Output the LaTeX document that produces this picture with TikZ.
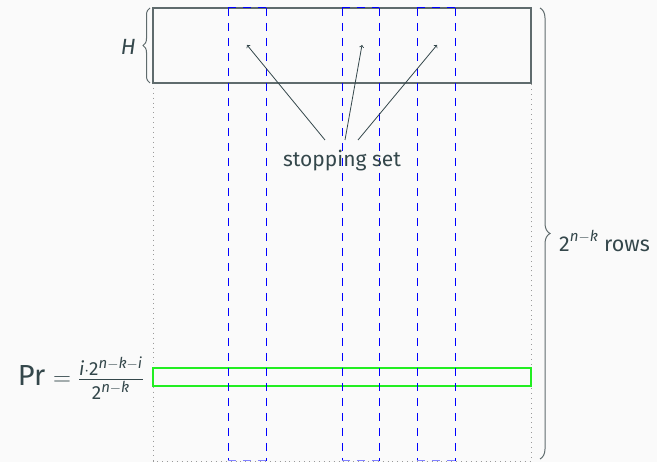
\documentclass[tikz,border=0pt]{standalone}
\usepackage{amsmath}
\usepackage{fontspec}
\setmainfont{Fira Sans}
\DeclareMathSizes{29}{29}{19}{15}
\usetikzlibrary{decorations.pathreplacing}
\definecolor{bgc}{HTML}{FAFAFA}
\definecolor{txt}{HTML}{34474B}
\definecolor{framec}{HTML}{5F6B6D}
\definecolor{dotc}{HTML}{9A9A9A}
\definecolor{myblue}{RGB}{0,0,255}
\definecolor{lightblue}{RGB}{130,130,255}
\definecolor{mygreen}{RGB}{34,238,34}
\newcommand{\itv}[1]{\text{\itshape #1}}
\newcommand{\dg}[1]{\text{#1}}
\tikzset{
  frameline/.style={draw=framec, line width=1.2pt},
  dotline/.style={draw=dotc, line width=0.9pt, dash pattern=on 0.9pt off 4pt},
  colline/.style={color=myblue, line width=1pt, dash pattern=on 8pt off 7pt},
  rowbox/.style={draw=mygreen, line width=1.1pt},
  bracec/.style={draw=framec, line width=1pt, decorate, decoration={brace, amplitude=7pt}},
  arr/.style={->, draw=txt, line width=0.8pt},
  lbl/.style={text=txt, inner sep=0pt}
}
\begin{document}
\begin{tikzpicture}[x=1pt,y=-1pt, font=\fontsize{17}{20}\selectfont]
\fill[bgc] (0,0) rectangle (657,462);
\useasboundingbox (0,0) rectangle (657,462);
% outer dotted frame
\coordinate (tl) at (153,83);
\coordinate (bl) at (153,461);
\coordinate (br) at (531,461);
\coordinate (tr) at (531,83);
\draw[dotline] (tl) -- (bl) -- (br) -- (tr);
% green row
\draw[rowbox] (153,368) rectangle (531,386);
% H box
\draw[frameline] (153,8) rectangle (531,83);
% blue columns
\begin{scope}[colline]
\draw (228,8) -- (228,461);
\draw (266,8) -- (266,461);
\draw (342,8) -- (342,461);
\draw (379,8) -- (379,461);
\draw (417,8) -- (417,461);
\draw (455,8) -- (455,461);
\draw (228,8) -- (266,8);
\draw (342,8) -- (379,8);
\draw (417,8) -- (455,8);
\draw[color=lightblue] (228,461) -- (266,461);
\draw[color=lightblue] (342,461) -- (379,461);
\draw[color=lightblue] (417,461) -- (455,461);
\end{scope}
% braces
\coordinate (hb1) at (150,83);
\coordinate (hb2) at (150,8);
\draw[bracec] (hb1) -- (hb2);
\node[lbl, font=\fontsize{22}{24}\selectfont\itshape, anchor=east] (H) at (136,47) {H};
\coordinate (rb1) at (540,8);
\coordinate (rb2) at (540,459);
\draw[bracec, decoration={brace, amplitude=10pt}] (rb1) -- (rb2);
\node[lbl, anchor=west, font=\fontsize{21.5}{24}\selectfont] (rows) at (559,241) {$\dg{2}^{\itv{n}-\itv{k}}$ rows};
% Pr label
\node[lbl, anchor=east] (pr) at (144,378) {\fontsize{29}{31}\selectfont Pr $=\frac{\itv{i}\cdot\dg{2}^{\itv{n}-\itv{k}-\itv{i}}}{\dg{2}^{\itv{n}-\itv{k}}}$};
% stopping set
\node[lbl, font=\fontsize{21}{24}\selectfont] (stop) at (342,161) {stopping set};
\coordinate (s1) at (325,140);
\coordinate (s2) at (345,140);
\coordinate (s3) at (358,140);
\coordinate (e1) at (247,45);
\coordinate (e2) at (362,45);
\coordinate (e3) at (437,45);
\draw[arr] (s1) -- (e1);
\draw[arr] (s2) -- (e2);
\draw[arr] (s3) -- (e3);
\end{tikzpicture}
\end{document}
